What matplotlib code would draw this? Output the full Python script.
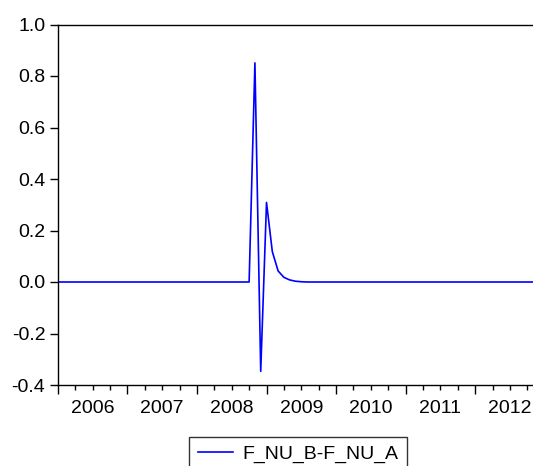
import numpy as np
import matplotlib
matplotlib.use('Agg')
import matplotlib.pyplot as plt
import matplotlib.transforms as mtransforms

plt.rcParams.update({
    'font.family': ['Liberation Sans', 'DejaVu Sans'],
    'font.size': 14,
    'axes.unicode_minus': False,
})

# monthly series, 2006M01 .. 2012M12
years = list(range(2006, 2013))
n_obs = 84
series_name = 'F_NU_B-F_NU_A'

# non-zero months (index from 2006M01) and their values
spike_idx = [34, 35, 36, 37, 38, 39, 40, 41, 42]
spike_val = [0.851, -0.347, 0.309, 0.118, 0.043, 0.018, 0.008, 0.003, 0.001]

y_ticks = [-0.4, -0.2, 0.0, 0.2, 0.4, 0.6, 0.8, 1.0]

values = np.zeros(n_obs)
values[spike_idx] = spike_val
t = np.arange(n_obs)

W, H = 533, 466
fig = plt.figure(figsize=(W / 100, H / 100), dpi=100)
ax = fig.add_axes([57.8 / W, 1 - 385 / H, 487 / W, 360.5 / H])

ax.plot(t, values, color='#0000ff', lw=1.2)

ax.set_xlim(0, n_obs)
ax.set_ylim(-0.4, 1.0)
ax.set_yticks(y_ticks)
ax.set_yticklabels([f'{v:.1f}' for v in y_ticks])

# year ticks long, quarter ticks short, labels centred in each year
ax.set_xticks([12 * i for i in range(len(years) + 1)])
ax.set_xticks([3 * i for i in range(4 * len(years) + 1)], minor=True)
ax.set_xticklabels([])
ax.tick_params(axis='x', which='major', length=6.5, width=1, direction='out')
ax.tick_params(axis='x', which='minor', length=3.5, width=1, direction='out')
ax.tick_params(axis='y', length=5.5, width=1, pad=3.5, direction='out')

trans = mtransforms.blended_transform_factory(ax.transData, ax.transAxes)
for i, yr in enumerate(years):
    ax.text(12 * i + 6, -0.042, str(yr), transform=trans,
            ha='center', va='top')

ax.spines['right'].set_visible(False)
for s in ['left', 'top', 'bottom']:
    ax.spines[s].set_linewidth(1)
    ax.spines[s].set_color('black')

fig.legend([plt.Line2D([], [], color='#0000ff', lw=1.2)], [series_name],
           loc='upper center', bbox_to_anchor=(298 / W, 1 - 436.7 / H),
           frameon=True, fancybox=False, edgecolor='black',
           handlelength=1.8, handletextpad=0.46, borderpad=0.46,
           borderaxespad=0)

fig.savefig('out.png', dpi=100, facecolor='white')
